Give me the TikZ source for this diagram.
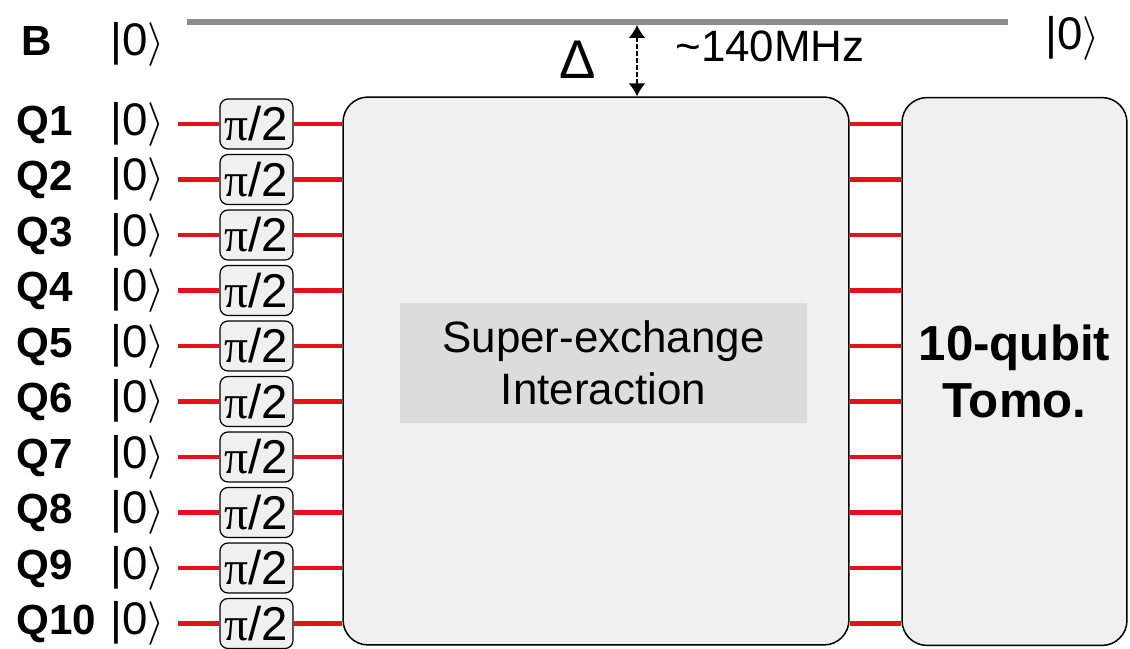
\documentclass[tikz,border=0pt]{standalone}
\usepackage{fontspec}
\setmainfont{Liberation Sans}
\newfontfamily\grk{Liberation Serif}
\usetikzlibrary{arrows.meta}

\definecolor{panelgray}{HTML}{F0F0F0}
\definecolor{midgray}{HTML}{DCDCDC}
\definecolor{busgray}{HTML}{8C8C8C}
\definecolor{qred}{HTML}{E8101A}

\begin{document}
\begin{tikzpicture}[x=0.02cm,y=-0.02cm,
  panel/.style={draw,rounded corners=0.5cm,fill=panelgray,line width=0.85pt,minimum height=10.96cm},
  gate/.style={draw,rounded corners=0.16cm,fill=panelgray,line width=0.7pt,minimum width=1.46cm,minimum height=1cm,inner sep=0pt,font=\fontsize{27}{30}\selectfont},
  wire/.style={draw=qred,line width=2.8pt},
  lbl/.style={anchor=base west,inner sep=0pt,font=\fontsize{24}{28}\selectfont\bfseries},
  ket/.style={anchor=base west,inner sep=0pt,font=\fontsize{26}{30}\selectfont}]

\useasboundingbox (0,0) rectangle (1130,649);

% boxes
\node[panel,minimum width=10.12cm] (inter) at (596,371) {};
\node[fill=midgray,minimum width=8.14cm,minimum height=2.4cm,align=center,font=\fontsize{25}{29.6}\selectfont] (sx) at (603.5,363) {Super-exchange\\Interaction};
\node[panel,minimum width=4.5cm,align=center,font=\fontsize{28}{32}\selectfont\bfseries] (tomo) at (1014.5,371.5) {10-qubit\\Tomo.};

% bus
\node[lbl] (b) at (21,55) {B};
\node[ket] (bin) at (110,55) {|0$\rangle$};
\node[ket] (bout) at (1045,50) {|0$\rangle$};
\coordinate (bl) at (187,22);
\coordinate (br) at (1008,22);
\draw[busgray,line width=3.4pt] (bl) -- (br);

% detuning
\coordinate (dtop) at (637,25);
\draw[line width=1pt,dash pattern=on 2.5pt off 1.5pt,{Latex[length=0.26cm,width=0.34cm]}-{Latex[length=0.26cm,width=0.34cm]}] (dtop) -- (dtop |- inter.north);
\node[anchor=base,inner sep=0pt,font=\fontsize{31}{34}\selectfont] (delta) at (578,78) {Δ};
\node[anchor=base west,inner sep=0pt,font=\fontsize{25}{30}\selectfont] (freq) at (675,61) {\textasciitilde 140MHz};

% qubits
\foreach \i in {1,...,10}{
  \pgfmathsetmacro\yy{124+55.5*(\i-1)}
  \node[lbl] (q\i) at (16,\yy+11) {Q\i};
  \node[ket] (k\i) at (110,\yy+11) {|0$\rangle$};
  \coordinate (s\i) at (178,\yy);
  \node[gate] (g\i) at (256.5,\yy) {{\grk π}/2};
  \draw[wire] (s\i) -- (g\i);
  \draw[wire] (g\i) -- (g\i -| inter.west);
  \draw[wire] (g\i -| inter.east) -- (g\i -| tomo.west);
}

\end{tikzpicture}
\end{document}
